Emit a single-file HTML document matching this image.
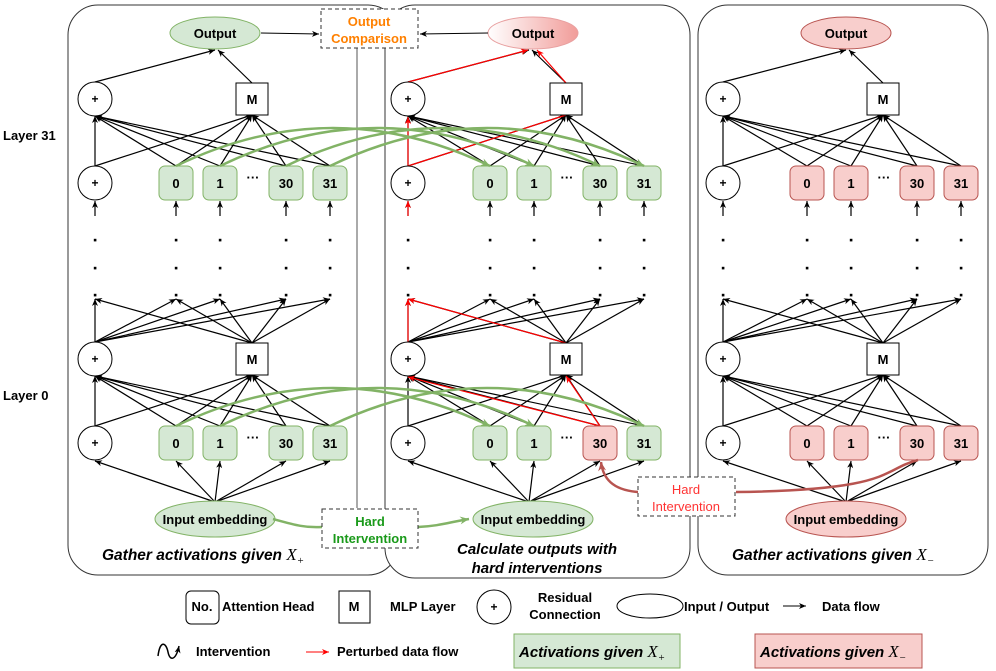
<!DOCTYPE html>
<html><head><meta charset="utf-8"><style>
body{margin:0;background:#fff}
svg{display:block;font-family:"Liberation Sans",sans-serif}
.b{font-weight:bold}
</style></head><body>
<svg id="s" width="996" height="671" viewBox="0 0 996 671" xmlns="http://www.w3.org/2000/svg">
<defs>
<marker id="ak" markerWidth="8" markerHeight="8" refX="7" refY="4" orient="auto" markerUnits="userSpaceOnUse"><path d="M0,1 L7,4 L0,7 L2,4 z" fill="#000"/></marker>
<marker id="ar" markerWidth="8" markerHeight="8" refX="7" refY="4" orient="auto" markerUnits="userSpaceOnUse"><path d="M0,1 L7,4 L0,7 L2,4 z" fill="#f00"/></marker>
<marker id="ag" markerWidth="10" markerHeight="10" refX="9" refY="5" orient="auto" markerUnits="userSpaceOnUse"><path d="M0,1 L9,5 L0,9 L3,5 z" fill="#82b366"/></marker>
<marker id="ab" markerWidth="10" markerHeight="10" refX="9" refY="5" orient="auto" markerUnits="userSpaceOnUse"><path d="M0,1 L9,5 L0,9 L3,5 z" fill="#b85450"/></marker>
<linearGradient id="gr" x1="0" x2="1" y1="0" y2="0"><stop offset="0" stop-color="#fff"/><stop offset="1" stop-color="#f19c99"/></linearGradient>
</defs>
<rect x="68" y="5" width="330" height="570" rx="30" fill="#fff" stroke="#333"/>
<rect x="385" y="5" width="305" height="573" rx="30" fill="#fff" stroke="#333"/>
<rect x="698" y="5" width="290" height="570" rx="30" fill="#fff" stroke="#333"/>
<line x1="357" y1="48" x2="357" y2="508" stroke="#555"/>
<text x="3" y="140" class="b" font-size="13">Layer 31</text>
<text x="3" y="400" class="b" font-size="13">Layer 0</text>
<g id="g"></g>
<rect x="321" y="9" width="97" height="39" fill="#fff" stroke="#333" stroke-dasharray="4,3"/>
<text x="369" y="26" text-anchor="middle" class="b" font-size="13" fill="#ff8000">Output</text>
<text x="369" y="43" text-anchor="middle" class="b" font-size="13" fill="#ff8000">Comparison</text>
<line x1="261" y1="33" x2="319" y2="34" stroke="#000" marker-end="url(#ak)"/>
<line x1="488" y1="33" x2="420" y2="34" stroke="#000" marker-end="url(#ak)"/>
<path d="M273,519 C295,525 305,528 322,527" fill="none" stroke="#82b366" stroke-width="2.5"/>
<path d="M418,527 C440,526 450,522 469,519" fill="none" stroke="#82b366" stroke-width="2.5" marker-end="url(#ag)"/>
<rect x="322" y="509" width="96" height="39" fill="#fff" stroke="#333" stroke-dasharray="4,3"/>
<text x="370" y="526" text-anchor="middle" class="b" font-size="13" fill="#1a9a1a">Hard</text>
<text x="370" y="543" text-anchor="middle" class="b" font-size="13" fill="#1a9a1a">Intervention</text>
<path d="M918,460 C880,470 895,490 736,492" fill="none" stroke="#b85450" stroke-width="2.5"/>
<path d="M638,492 C612,490 603,478 601,462" fill="none" stroke="#b85450" stroke-width="2.5" marker-end="url(#ab)"/>
<rect x="638" y="477" width="97" height="39" fill="#fff" stroke="#333" stroke-dasharray="4,3"/>
<text x="686" y="494" text-anchor="middle" font-size="13" fill="#f33">Hard</text>
<text x="686" y="511" text-anchor="middle" font-size="13" fill="#f33">Intervention</text>
<text x="102" y="560" font-size="15.5" font-style="italic" class="b">Gather activations given <tspan font-family="Liberation Serif" font-weight="normal" font-size="17">X</tspan><tspan font-family="Liberation Serif" font-weight="normal" font-size="11" dy="4">+</tspan></text>
<text x="537" y="554" text-anchor="middle" font-size="15" font-style="italic" class="b">Calculate outputs with</text>
<text x="537" y="573" text-anchor="middle" font-size="15" font-style="italic" class="b">hard interventions</text>
<text x="732" y="560" font-size="15.5" font-style="italic" class="b">Gather activations given <tspan font-family="Liberation Serif" font-weight="normal" font-size="17">X</tspan><tspan font-family="Liberation Serif" font-weight="normal" font-size="11" dy="4">−</tspan></text>
<rect x="186" y="591" width="33" height="33" rx="5" fill="#fff" stroke="#000"/>
<text x="202" y="611" text-anchor="middle" class="b" font-size="13">No.</text>
<text x="222" y="611" class="b" font-size="13">Attention Head</text>
<rect x="339" y="591" width="31" height="32" fill="#fff" stroke="#000"/>
<text x="354" y="611" text-anchor="middle" class="b" font-size="13">M</text>
<text x="390" y="611" class="b" font-size="13">MLP Layer</text>
<ellipse cx="494" cy="607" rx="17" ry="17" fill="#fff" stroke="#000"/>
<text x="494" y="611" text-anchor="middle" class="b" font-size="12">+</text>
<text x="565" y="602" text-anchor="middle" class="b" font-size="13">Residual</text>
<text x="565" y="619" text-anchor="middle" class="b" font-size="13">Connection</text>
<ellipse cx="650" cy="606" rx="33" ry="12" fill="#fff" stroke="#000"/>
<text x="684" y="611" class="b" font-size="13">Input / Output</text>
<line x1="783" y1="606" x2="806" y2="606" stroke="#000" marker-end="url(#ak)"/>
<text x="822" y="611" class="b" font-size="13">Data flow</text>
<path d="M158,656 C160,640 166,642 168,652 C170,662 176,660 179,646" fill="none" stroke="#000" stroke-width="1.5" marker-end="url(#ak)"/>
<text x="196" y="656" class="b" font-size="13">Intervention</text>
<line x1="306" y1="652" x2="329" y2="652" stroke="#f00" marker-end="url(#ar)"/>
<text x="337" y="656" class="b" font-size="13">Perturbed data flow</text>
<rect x="514" y="634" width="166" height="34" fill="#d5e8d4" stroke="#82b366"/>
<text x="519" y="657" font-size="15" font-style="italic" class="b">Activations given <tspan font-family="Liberation Serif" font-weight="normal" font-size="17">X</tspan><tspan font-family="Liberation Serif" font-weight="normal" font-size="11" dy="4">+</tspan></text>
<rect x="755" y="634" width="167" height="34" fill="#f8cecc" stroke="#b85450"/>
<text x="760" y="657" font-size="15" font-style="italic" class="b">Activations given <tspan font-family="Liberation Serif" font-weight="normal" font-size="17">X</tspan><tspan font-family="Liberation Serif" font-weight="normal" font-size="11" dy="4">−</tspan></text>
</svg>
<script>
var NS="http://www.w3.org/2000/svg",G=document.getElementById("g");
function el(t,a,txt){var e=document.createElementNS(NS,t);for(var k in a)e.setAttribute(k,a[k]);if(txt!=null)e.textContent=txt;G.appendChild(e);return e;}
function ln(x1,y1,x2,y2,c,arrow){el("line",{x1:x1,y1:y1,x2:x2,y2:y2,stroke:c||"#000","stroke-width":1.2,"marker-end":arrow===false?"":"url(#"+(c=="#f00"?"ar":"ak")+")"});}
function gcurve(x1,x2,y){el("path",{d:"M"+x1+","+y+" Q"+((x1+x2)/2)+","+(y-76)+" "+x2+","+y,fill:"none",stroke:"#82b366","stroke-width":2.5,"marker-end":"url(#ag)"});}
var GF="#d5e8d4",GS="#82b366",RF="#f8cecc",RS="#b85450";
var heads=[176,220,286,330],labels=["0","1","30","31"];
var panels=[{o:0,po:0,out:"g",inp:"g"},{o:314,po:313,out:"grad",inp:"g"},{o:631,po:628,out:"r",inp:"r"}];
var layers=[[99,183],[359,443]];
panels.forEach(function(P,pi){
 var o=P.o,px=95+P.po,mx=252+o;
 layers.forEach(function(L,li){
  var yt=L[0],yb=L[1];
  ln(px,yb-17,px,yt+17);ln(px,yb-17,mx,yt+16);
  heads.forEach(function(h){ln(h+o,yb-17,px,yt+17);ln(h+o,yb-17,mx,yt+16);});
 });
 ln(px,82,215+o,50);ln(mx,83,215+o+3,50);
 [px].concat(heads.map(function(h){return h+o})).forEach(function(x){
   ln(x,216,x,201);
   [240,268,295].forEach(function(y){el("rect",{x:x-1.2,y:y-1.2,width:2.6,height:2.6,fill:"#000"});});
   ln(px,342,x,299);ln(mx,343,x,299);
   ln(215+o,502,x,461);
 });
});
(function(){var px=408,mx=566,R="#f00";
 ln(px,216,px,201,R);ln(px,166,px,117,R);ln(px,166,mx,115,R,false);
 ln(px,82,528,50,R);ln(mx,83,537,50,R);
 ln(600,426,px,377,R);ln(600,426,mx,376,R);
 ln(px,342,px,299,R);ln(mx,343,px,299,R);
})();
panels.forEach(function(P,pi){
 var o=P.o,px=95+P.po,mx=252+o;
 layers.forEach(function(L,li){
  var yt=L[0],yb=L[1];
  [yt,yb].forEach(function(y){el("circle",{cx:px,cy:y,r:17,fill:"#fff",stroke:"#000"});el("text",{x:px,y:y+4,"text-anchor":"middle","font-size":12,"font-weight":"bold"},"+");});
  el("rect",{x:mx-16,y:yt-16,width:32,height:32,fill:"#fff",stroke:"#000"});
  el("text",{x:mx,y:yt+5,"text-anchor":"middle","font-size":13,"font-weight":"bold"},"M");
  heads.forEach(function(h,i){
   var red=pi==2||(pi==1&&li==1&&i==2);
   el("rect",{x:h+o-17,y:yb-17,width:34,height:34,rx:6,fill:red?RF:GF,stroke:red?RS:GS});
   el("text",{x:h+o,y:yb+5,"text-anchor":"middle","font-size":13,"font-weight":"bold"},labels[i]);
  });
  el("text",{x:253+o,y:yb-1,"text-anchor":"middle","font-size":13,"font-weight":"bold"},"···");
 });
 var of=P.out=="g"?GF:P.out=="r"?RF:"url(#gr)",os=P.out=="g"?GS:P.out=="r"?RS:"#e8a0a0";
 var cx=215+o+(pi==1?4:0);
 el("ellipse",{cx:cx,cy:33,rx:45,ry:16,fill:of,stroke:os});
 el("text",{x:cx,y:38,"text-anchor":"middle","font-size":13,"font-weight":"bold"},"Output");
 var inf=P.inp=="g"?GF:RF,ins=P.inp=="g"?GS:RS;
 el("ellipse",{cx:cx,cy:519,rx:60,ry:18,fill:inf,stroke:ins});
 el("text",{x:cx,y:524,"text-anchor":"middle","font-size":13,"font-weight":"bold"},"Input embedding");
});
heads.forEach(function(h,i){gcurve(h,h+314,166);if(i!=2)gcurve(h,h+314,426);});
</script>
</body></html>
